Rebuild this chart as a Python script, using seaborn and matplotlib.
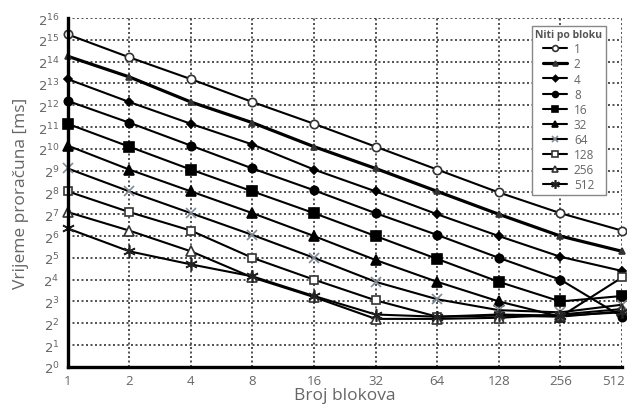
import matplotlib
matplotlib.use("Agg")
import matplotlib.pyplot as plt
import matplotlib.transforms as mtransforms
import seaborn as sns
import numpy as np
import pandas as pd

# broj blokova (x) i niti po bloku (serije)
blocks = [1, 2, 4, 8, 16, 32, 64, 128, 256, 512]
threads = [1, 2, 4, 8, 16, 32, 64, 128, 256, 512]

# vrijeme proracuna, zapisano kao eksponent od 2 (ocitano sa slike)
t_1 = [15.25, 14.2, 13.2, 12.15, 11.15, 10.1, 9.05, 8.0, 7.05, 6.25]
t_2 = [14.25, 13.3, 12.15, 11.2, 10.1, 9.1, 8.05, 7.0, 6.0, 5.3]
t_4 = [13.2, 12.15, 11.15, 10.2, 9.05, 8.05, 7.0, 6.0, 5.05, 4.4]
t_8 = [12.2, 11.2, 10.15, 9.1, 8.1, 7.05, 6.05, 5.0, 4.0, 2.3]
t_16 = [11.15, 10.1, 9.05, 8.05, 7.05, 6.0, 4.95, 3.9, 3.0, 3.25]
t_32 = [10.15, 9.05, 8.05, 7.05, 6.0, 4.9, 3.9, 3.0, 2.3, 2.55]
t_64 = [9.1, 8.05, 7.05, 6.05, 5.0, 3.9, 3.1, 2.6, 2.5, 2.85]
t_128 = [8.05, 7.1, 6.25, 5.0, 4.0, 3.05, 2.3, 2.35, 2.3, 4.1]
t_256 = [7.1, 6.25, 5.3, 4.1, 3.2, 2.2, 2.2, 2.25, 2.4, 2.65]
t_512 = [6.35, 5.3, 4.7, 4.15, 3.25, 2.4, 2.3, 2.4, 2.35, 2.5]

series = [t_1, t_2, t_4, t_8, t_16, t_32, t_64, t_128, t_256, t_512]

rows = []
for n, vals in zip(threads, series):
    for b, v in zip(blocks, vals):
        rows.append({"blokovi": b, "niti": n, "vrijeme": 2 ** v})
df = pd.DataFrame(rows)

sns.set_theme(style="white")
plt.rcParams["font.family"] = ["Open Sans", "DejaVu Sans"]

# marker, velicina, ispuna, boja markera, debljina linije
styles = {
    1: ("o", 6, "white", "#333333", 1.5),
    2: ("^", 5, "#333333", "#333333", 2.3),
    4: ("D", 4.5, "black", "black", 1.5),
    8: ("o", 6, "black", "black", 1.5),
    16: ("s", 7, "black", "black", 1.5),
    32: ("^", 7, "black", "black", 1.5),
    64: ("x", 7, "#7f8a96", "#7f8a96", 1.5),
    128: ("s", 6, "white", "#333333", 1.5),
    256: ("^", 6.5, "white", "#333333", 1.5),
    512: ((6, 2, 0), 9, "#222222", "#222222", 1.5),
}

fig = plt.figure(figsize=(6.27, 4.06), dpi=100)
ax = fig.add_axes([0.108, 0.094, 0.884, 0.859])

for n in threads:
    m, ms, mfc, mec, lw = styles[n]
    sub = df[df["niti"] == n]
    sns.lineplot(data=sub, x="blokovi", y="vrijeme", ax=ax, color="black",
                 linewidth=lw, marker=m, markersize=ms, markerfacecolor=mfc,
                 markeredgecolor=mec, markeredgewidth=1.2, label=str(n),
                 clip_on=False, zorder=3)

ax.set_xscale("log", base=2)
ax.set_yscale("log", base=2)
ax.set_xlim(1, 512)
ax.set_ylim(1, 2 ** 16)
ax.set_xticks(blocks)
ax.set_xticklabels([str(b) for b in blocks])
ax.minorticks_off()
ax.set_yticks([2 ** k for k in range(17)])
ax.set_yticklabels([r"$2^{%d}$" % k for k in range(17)])

ax.grid(True, which="major", color="#333333", linestyle=(0, (1.2, 1.5)), linewidth=1.2)
ax.set_axisbelow(True)

for side in ["top", "right"]:
    ax.spines[side].set_visible(False)
for side in ["left", "bottom"]:
    ax.spines[side].set_color("black")
    ax.spines[side].set_linewidth(2.4)
    ax.spines[side].set_zorder(4)

ax.tick_params(axis="both", length=0, pad=5, colors="#666666", labelsize=9.5)
ax.tick_params(axis="y", pad=6)

# zadnja oznaka (512) je uz rub slike, pomakni je malo ulijevo
last = ax.get_xticklabels()[-1]
last.set_transform(last.get_transform() +
                   mtransforms.ScaledTranslation(-8 / 100, 0, fig.dpi_scale_trans))

ax.set_xlabel("Broj blokova", fontsize=12.5, color="#666666", labelpad=0)
ax.set_ylabel("Vrijeme proračuna [ms]", fontsize=12.5, color="#666666", labelpad=6)

leg = ax.legend(title="Niti po bloku", loc="upper right", bbox_to_anchor=(0.975, 0.985),
                fontsize=8.5, title_fontsize=7.5, frameon=True, fancybox=False,
                handlelength=2.0, labelspacing=0.18, borderpad=0.3,
                handletextpad=0.6, markerscale=0.7, borderaxespad=0.2)
leg.get_title().set_fontweight("bold")
leg.get_title().set_color("#555555")
leg.get_frame().set_edgecolor("#888888")
leg.get_frame().set_linewidth(1.0)
leg.get_frame().set_alpha(1)
for txt in leg.get_texts():
    txt.set_color("#666666")
leg.set_zorder(5)

plt.savefig("out.png", dpi=100)
plt.close()
